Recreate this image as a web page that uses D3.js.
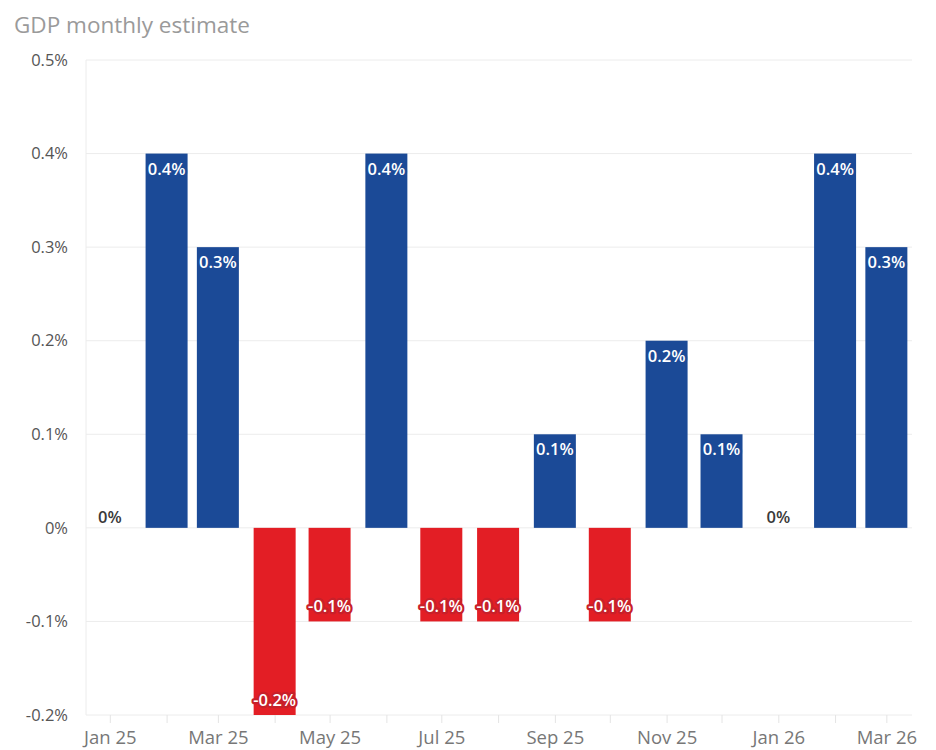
<!DOCTYPE html>
<html>
<head>
<meta charset="utf-8">
<script src="https://cdn.jsdelivr.net/npm/d3@7"></script>
<style>
  body { margin: 0; background: #fff; }
  svg { display: block; font-family: "Open Sans", Lato, sans-serif; }
</style>
</head>
<body>
<svg id="chart" width="936" height="750"></svg>
<script>
const title = "GDP monthly estimate";
const months = ["2025-01","2025-02","2025-03","2025-04","2025-05","2025-06","2025-07","2025-08","2025-09","2025-10","2025-11","2025-12","2026-01","2026-02","2026-03"];
const values = [0, 0.4, 0.3, -0.2, -0.1, 0.4, -0.1, -0.1, 0.1, -0.1, 0.2, 0.1, 0, 0.4, 0.3];
const yTicks = [-0.2, -0.1, 0, 0.1, 0.2, 0.3, 0.4, 0.5];
const xTickLabels = ["Jan 25","Mar 25","May 25","Jul 25","Sep 25","Nov 25","Jan 26","Mar 26"];

const parse = d3.timeParse("%Y-%m");
const data = months.map((m, i) => ({ date: parse(m), value: values[i] }));

const svg = d3.select("#chart");
const margin = { left: 86, right: 24, top: 60, bottom: 35 };
const W = 936, H = 750;

const x = d3.scaleTime()
  .domain([d3.timeDay.offset(data[0].date, -13), d3.timeDay.offset(data[data.length - 1].date, 14)])
  .range([margin.left, W - margin.right]);
const y = d3.scaleLinear().domain([-0.2, 0.5]).range([715, 60]);

const blue = "#1b4a97", red = "#e31e25";
const blueHalo = "#1b4a97", redHalo = "#c8202a";
const barW = 42;
const pct = v => (Math.abs(v) < 1e-9 ? "0" : d3.format(".1f")(v).replace("\u2212", "-")) + "%";

// gridlines
svg.append("g").selectAll("line").data(yTicks).join("line")
  .attr("x1", margin.left).attr("x2", W - margin.right)
  .attr("y1", d => y(d)).attr("y2", d => y(d))
  .attr("stroke", "#ececec").attr("stroke-width", 1);
svg.append("line")
  .attr("x1", margin.left).attr("x2", margin.left)
  .attr("y1", y(0.5)).attr("y2", y(-0.2))
  .attr("stroke", "#ececec");

// y axis labels
const yAxis = d3.axisLeft(y).tickValues(yTicks)
  .tickFormat(pct)
  .tickSize(0).tickPadding(18);
const gy = svg.append("g").attr("transform", `translate(${margin.left},0)`).call(yAxis);
gy.select(".domain").remove();
gy.selectAll("text").attr("fill", "#555").style("font-size", "16.5px")
  .style("font-family", "'Open Sans', sans-serif");

// x axis
const xAxis = d3.axisBottom(x).tickValues(data.map(d => d.date))
  .tickFormat(d => {
    const lbl = d3.timeFormat("%b %y")(d);
    return xTickLabels.includes(lbl) ? lbl : "";
  })
  .tickSize(8).tickPadding(8);
const gx = svg.append("g").attr("transform", `translate(0,${y(-0.2)})`).call(xAxis);
gx.select(".domain").remove();
gx.selectAll("line").attr("stroke", "#e4e4e4");
gx.selectAll("text").attr("fill", "#777").style("font-size", "18.5px")
  .style("font-family", "'Open Sans', sans-serif");

// bars
svg.append("g").selectAll("rect").data(data.filter(d => d.value !== 0)).join("rect")
  .attr("x", d => x(d.date) - barW / 2)
  .attr("width", barW)
  .attr("y", d => y(Math.max(0, d.value)))
  .attr("height", d => Math.abs(y(d.value) - y(0)))
  .attr("fill", d => d.value > 0 ? blue : red);

// value labels
svg.append("g").selectAll("text").data(data).join("text")
  .attr("x", d => x(d.date))
  .attr("y", d => d.value > 0 ? y(d.value) + 21 : d.value < 0 ? y(d.value) - 9 : y(0) - 5)
  .attr("text-anchor", "middle")
  .style("font-size", "16.5px")
  .style("font-weight", "600")
  .style("font-family", "'Open Sans', sans-serif")
  .attr("fill", d => d.value === 0 ? "#3a3a3a" : "#fff")
  .attr("stroke", d => d.value > 0 ? blueHalo : d.value < 0 ? redHalo : "none")
  .attr("stroke-width", 4.5)
  .attr("stroke-linejoin", "round")
  .attr("paint-order", "stroke")
  .text(d => pct(d.value));

// title
svg.append("text").attr("x", 14).attr("y", 33)
  .attr("fill", "#9a9a9a").style("font-size", "22.5px")
  .style("font-family", "'Open Sans', sans-serif")
  .text(title);
</script>
</body>
</html>
